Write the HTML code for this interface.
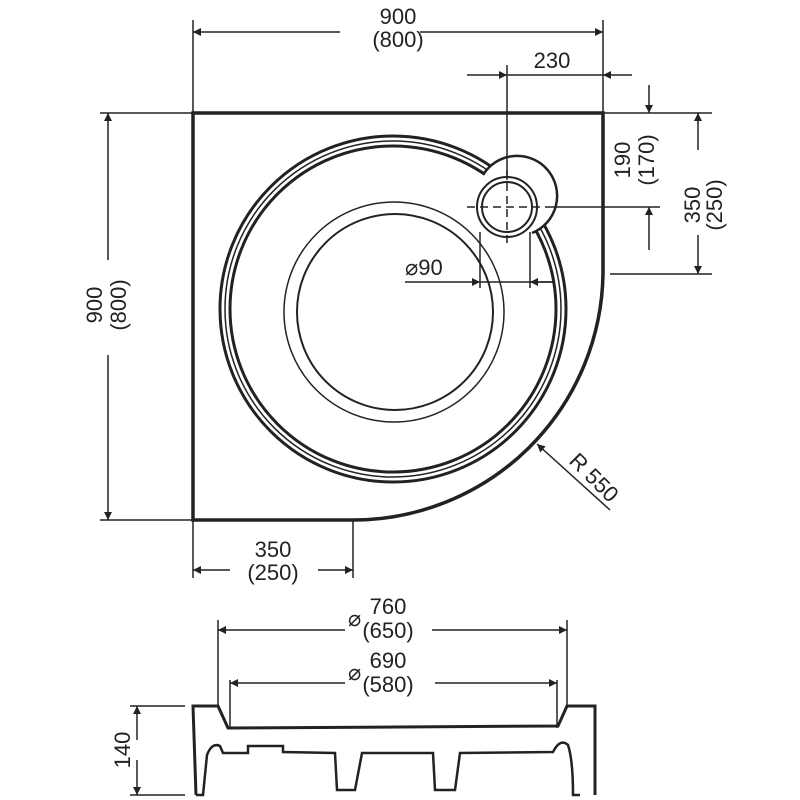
<!DOCTYPE html>
<html><head><meta charset="utf-8"><style>
html,body{margin:0;padding:0;background:#fff;}
svg{display:block;}
text{font-family:"Liberation Sans",sans-serif;font-size:22px;fill:#222;}
</style></head><body>
<svg width="800" height="800" viewBox="0 0 800 800" xmlns="http://www.w3.org/2000/svg">
<defs>
<marker id="a" viewBox="0 0 10 10" refX="10" refY="5" markerWidth="14" markerHeight="8" orient="auto-start-reverse" markerUnits="userSpaceOnUse"><path d="M0,0 L10,5 L0,10 z" fill="#222"/></marker>
</defs>
<g stroke="#222" fill="none">
<path d="M193,113 L603,113 L603,274 A250,250 0 0 1 353,520 L193,520 Z" stroke-width="3.5"/>
<circle cx="393" cy="309" r="173" stroke-width="3"/>
<circle cx="393" cy="309" r="168" stroke-width="1.5"/>
<circle cx="393" cy="309" r="163" stroke-width="3"/>
<circle cx="394" cy="312" r="110" stroke-width="1.5"/>
<circle cx="395" cy="312" r="98" stroke-width="2"/>
<path d="M483,175 A40,40 0 1 1 532,233" fill="#fff" stroke-width="2.5"/>
<circle cx="507" cy="207" r="30" fill="#fff" stroke-width="2"/>
<circle cx="507" cy="207" r="25" stroke-width="2"/>
<g stroke-width="1.5" stroke-dasharray="8,5">
<line x1="467" y1="207" x2="548" y2="207"/>
<line x1="507" y1="170" x2="507" y2="245"/>
</g>
<g stroke-width="1.5">
<line x1="193" y1="20" x2="193" y2="113"/>
<line x1="603" y1="20" x2="603" y2="113"/>
<line x1="193" y1="32" x2="340" y2="32" marker-start="url(#a)"/>
<line x1="420" y1="32" x2="603" y2="32" marker-end="url(#a)"/>
<line x1="507" y1="65" x2="507" y2="180"/>
<line x1="467" y1="75" x2="507" y2="75" marker-end="url(#a)"/>
<line x1="632" y1="75" x2="603" y2="75" marker-end="url(#a)"/>
<line x1="507" y1="75" x2="603" y2="75"/>
<line x1="603" y1="113" x2="712" y2="113"/>
<line x1="548" y1="207" x2="660" y2="207"/>
<line x1="610" y1="274" x2="712" y2="274"/>
<line x1="649" y1="85" x2="649" y2="113" marker-end="url(#a)"/>
<line x1="649" y1="250" x2="649" y2="207" marker-end="url(#a)"/>
<line x1="698" y1="150" x2="698" y2="113" marker-end="url(#a)"/>
<line x1="698" y1="235" x2="698" y2="274" marker-end="url(#a)"/>
<line x1="100" y1="113" x2="193" y2="113"/>
<line x1="100" y1="520" x2="193" y2="520"/>
<line x1="108" y1="260" x2="108" y2="113" marker-end="url(#a)"/>
<line x1="108" y1="355" x2="108" y2="520" marker-end="url(#a)"/>
<line x1="193" y1="520" x2="193" y2="578"/>
<line x1="353" y1="520" x2="353" y2="578"/>
<line x1="230" y1="570" x2="193" y2="570" marker-end="url(#a)"/>
<line x1="318" y1="570" x2="353" y2="570" marker-end="url(#a)"/>
<line x1="405" y1="282" x2="480" y2="282" marker-end="url(#a)"/>
<line x1="480" y1="282" x2="555" y2="282"/>
<line x1="555" y1="282" x2="530" y2="282" marker-end="url(#a)"/>
<line x1="480" y1="232" x2="480" y2="288"/>
<line x1="530" y1="232" x2="530" y2="288"/>
<line x1="610" y1="510" x2="537" y2="444" marker-end="url(#a)"/>
<line x1="218" y1="620" x2="218" y2="708"/>
<line x1="567" y1="620" x2="567" y2="708"/>
<line x1="218" y1="630" x2="345" y2="630" marker-start="url(#a)"/>
<line x1="432" y1="630" x2="567" y2="630" marker-end="url(#a)"/>
<line x1="230" y1="680" x2="230" y2="728"/>
<line x1="557" y1="680" x2="557" y2="728"/>
<line x1="230" y1="683" x2="345" y2="683" marker-start="url(#a)"/>
<line x1="435" y1="683" x2="557" y2="683" marker-end="url(#a)"/>
<line x1="130" y1="706" x2="185" y2="706"/>
<line x1="130" y1="795" x2="185" y2="795"/>
<line x1="137" y1="740" x2="137" y2="706" marker-end="url(#a)"/>
<line x1="137" y1="760" x2="137" y2="795" marker-end="url(#a)"/>
</g>
<path d="M196,795 L193,706 L218,706 L228,728 L558,726 L567,706 L595,706 L595,795" stroke-width="3"/>
<path d="M196,795 L203,795 L207,755 Q212,742 220,746 L223,753 L248,753 L248,746 L283,746 L283,752 L335,753 L337,790 L355,790 L362,753 L433,753 L435,790 L455,790 L460,753 L553,752 Q560,738 568,745 Q573,760 573,795 L580,795" stroke-width="2.5"/>
</g>
<text x="398" y="24" text-anchor="middle">900</text>
<text x="398" y="47" text-anchor="middle">(800)</text>
<text x="552" y="68" text-anchor="middle">230</text>
<text x="405" y="275" font-size="20">⌀90</text>
<g transform="rotate(-90 0 0)">
<text x="-305" y="102" text-anchor="middle">900</text>
<text x="-305" y="126" text-anchor="middle">(800)</text>
<text x="-160" y="630" text-anchor="middle">190</text>
<text x="-160" y="654" text-anchor="middle">(170)</text>
<text x="-205" y="700" text-anchor="middle">350</text>
<text x="-205" y="722" text-anchor="middle">(250)</text>
<text x="-750" y="130" text-anchor="middle">140</text>
</g>
<g transform="translate(568,462) rotate(45)"><text x="0" y="0">R 550</text></g>
<text x="273" y="557" text-anchor="middle">350</text>
<text x="273" y="580" text-anchor="middle">(250)</text>
<text x="388" y="614" text-anchor="middle">760</text>
<text x="388" y="638" text-anchor="middle">(650)</text>
<text x="348" y="626" font-size="20">⌀</text>
<text x="388" y="668" text-anchor="middle">690</text>
<text x="388" y="692" text-anchor="middle">(580)</text>
<text x="348" y="680" font-size="20">⌀</text>
</svg>
</body></html>
